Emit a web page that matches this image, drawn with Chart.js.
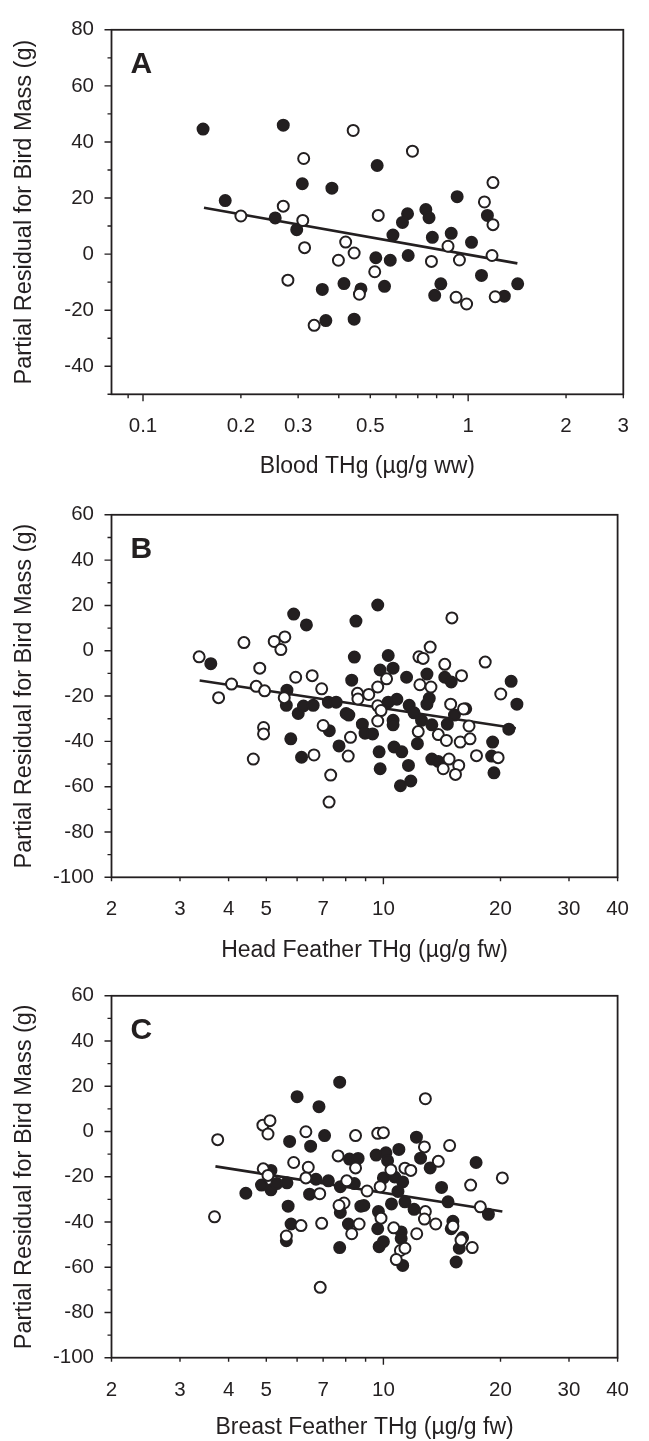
<!DOCTYPE html>
<html>
<head>
<meta charset="utf-8">
<script src="https://cdn.jsdelivr.net/npm/chart.js@4.4.1/dist/chart.umd.min.js"></script>
<style>
  html, body { margin: 0; padding: 0; background: #fff; }
  body { width: 649px; height: 1441px; position: relative; overflow: hidden; }
  .panel { position: absolute; left: 0; width: 649px; }
</style>
</head>
<body>
<div class="panel" style="top:0;height:485px"><canvas id="chartA"></canvas></div>
<div class="panel" style="top:485px;height:481px"><canvas id="chartB"></canvas></div>
<div class="panel" style="top:966px;height:475px"><canvas id="chartC"></canvas></div>
<script>
// Panel A - blood THg
const aFilledX = [0.153, 0.270, 0.179, 0.309, 0.381, 0.255, 0.297, 0.356, 0.415, 0.468, 0.365, 0.446, 0.525, 0.651, 0.628, 0.587, 0.741, 0.758, 0.776, 0.887, 0.925, 1.024, 0.520, 0.576, 0.654, 0.553, 0.824, 0.789, 1.099, 1.146, 1.292, 1.420];
const aFilledY = [44.6, 46.0, 19.1, 25.1, 23.5, 12.9, 8.7, -12.6, -10.5, -12.4, -23.7, -23.2, 31.6, 14.4, 11.3, 6.8, 15.9, 13.0, 6.0, 7.4, 20.5, 4.2, -1.3, -2.2, -0.5, -11.5, -10.6, -14.7, -7.6, 13.8, -15.0, -10.6];
const aOpenX = [0.443, 0.312, 0.200, 0.270, 0.310, 0.314, 0.420, 0.446, 0.399, 0.279, 0.463, 0.336, 0.674, 0.529, 0.516, 0.771, 0.867, 0.940, 0.918, 0.989, 1.192, 1.122, 1.192, 1.184, 1.211];
const aOpenY = [44.1, 34.1, 13.6, 17.1, 12.0, 2.3, 4.3, 0.4, -2.2, -9.3, -14.3, -25.4, 36.7, 13.8, -6.3, -2.6, 2.8, -2.1, -15.4, -17.8, 25.5, 18.6, 10.5, -0.5, -15.2];
const aLineX = [0.154, 1.417];
const aLineY = [16.5, -3.3];

// Panel B - head feather THg
const bFilledX = [3.60, 5.88, 6.34, 8.50, 8.42, 8.29, 5.65, 5.63, 6.04, 6.23, 6.60, 7.22, 7.56, 8.02, 8.15, 7.26, 5.78, 6.16, 7.69, 8.83,
  9.67, 10.29, 9.81, 10.59, 11.47, 12.94, 14.38, 14.94, 13.12, 12.94, 10.29, 10.83, 11.65, 11.99, 10.59, 10.59, 12.53, 13.32, 14.60, 15.23,
  8.97, 9.38, 10.65, 11.15, 9.75, 9.81, 11.60, 11.06, 11.76, 12.23, 13.32, 13.84, 21.30, 22.04, 21.01, 19.09, 18.98, 19.24, 16.28];
const bFilledY = [-5.7, 16.2, 11.4, 13.1, -2.8, -13.0, -17.4, -24.1, -27.7, -24.4, -24.1, -22.7, -22.7, -27.7, -28.4, -35.3, -38.9, -47.0, -42.0, -32.4,
  20.2, -2.1, -8.5, -7.7, -11.7, -10.3, -11.7, -13.8, -21.0, -23.6, -22.7, -21.4, -24.1, -27.4, -30.7, -32.7, -30.7, -32.7, -32.4, -28.4,
  -36.4, -36.7, -42.5, -44.6, -44.6, -52.1, -50.6, -59.6, -57.5, -41.0, -47.8, -48.9, -13.5, -23.6, -34.6, -40.3, -46.5, -53.9, -25.6];
const bOpenX = [3.36, 3.77, 4.07, 4.38, 4.81, 4.71, 4.95, 5.24, 5.45, 5.58, 5.95, 6.56, 5.56, 6.94, 4.92, 4.92, 4.63, 6.63, 7.00, 7.32, 7.25, 8.23, 8.12, 8.58, 8.60,
  15.00, 13.19, 12.34, 12.65, 18.27, 14.38, 15.88, 10.19, 9.67, 9.17, 12.41, 13.25, 9.67, 9.86, 9.67, 14.89, 16.07, 16.60, 12.29, 13.84,
  14.52, 15.76, 16.70, 17.35, 19.72, 20.03, 14.75, 15.62, 14.25, 15.32];
const bOpenY = [-2.7, -20.7, -14.7, 3.6, -7.7, -15.7, -17.7, 4.1, 0.5, 6.1, -11.7, -11.0, -20.7, -16.8, -33.9, -36.7, -47.8, -46.0, -33.0, -54.9, -66.8, -38.2, -46.5, -18.8, -21.3,
  14.5, 1.6, -2.7, -3.4, -5.0, -6.0, -11.0, -12.4, -16.0, -19.3, -15.0, -16.0, -24.3, -26.4, -31.0, -23.6, -25.7, -33.2, -35.7, -37.0,
  -39.6, -40.3, -38.9, -46.3, -47.2, -19.1, -47.8, -50.6, -52.1, -54.6];
const bLineX = [3.37, 21.9];
const bLineY = [-13.1, -34.2];

// Panel C - breast feather THg
const cFilledX = [7.72, 6.00, 6.83, 5.74, 6.50, 7.06, 4.43, 4.86, 5.14, 5.32, 5.65, 5.14, 6.46, 6.71, 7.22, 7.75, 5.69, 5.79, 5.63, 7.75, 8.13, 7.72, 8.18, 8.61, 8.42, 8.75,
  12.16, 9.58, 10.15, 10.96, 10.25, 12.46, 13.19, 17.31, 10.00, 10.69, 11.21, 10.90, 14.11, 14.66, 8.91, 10.49, 11.36, 11.99, 9.71, 9.67,
  9.75, 10.00, 11.11, 11.11, 11.21, 15.09, 14.94, 15.98, 15.67, 15.38, 18.62];
const cFilledY = [21.8, 15.4, 11.0, -4.4, -6.5, -1.8, -27.3, -23.7, -25.8, -23.0, -22.7, -17.2, -27.7, -21.1, -21.8, -24.4, -33.0, -40.9, -48.3, -35.8, -40.9, -51.3, -12.2, -11.9, -23.0, -33.0,
  -2.5, -10.4, -9.4, -7.9, -12.9, -11.8, -16.1, -13.7, -20.5, -20.1, -22.3, -26.5, -24.7, -31.1, -32.7, -32.0, -31.1, -34.4, -35.4, -43.0,
  -50.9, -48.7, -44.4, -47.3, -59.2, -39.7, -43.0, -46.9, -51.6, -57.7, -36.6];
const cOpenX = [3.75, 3.68, 4.90, 5.11, 5.05, 4.91, 5.05, 5.88, 6.32, 6.41, 6.32, 6.86, 6.14, 6.94, 5.63, 6.88, 7.65, 8.48, 8.48, 8.05, 7.92, 7.69, 8.29, 8.66,
  12.82, 9.67, 10.00, 12.75, 14.80, 13.84, 11.36, 11.76, 10.45, 20.22, 16.76, 9.81, 9.08, 17.75, 12.82, 12.75, 13.63, 9.86, 12.18, 10.63,
  15.09, 15.83, 16.92, 11.06, 11.36, 10.79];
const cOpenY = [-3.6, -37.7, 2.8, 4.8, -1.1, -16.5, -19.4, -13.7, -0.1, -15.8, -20.5, -27.5, -41.6, -40.6, -46.2, -68.9, -10.8, -1.8, -16.1, -21.8, -31.6, -32.7, -45.2, -40.9,
  14.5, -0.8, -0.5, -6.8, -6.2, -13.2, -16.2, -17.2, -17.0, -20.5, -23.7, -24.4, -26.3, -33.3, -35.4, -38.7, -40.9, -38.3, -45.2, -42.6,
  -41.9, -48.0, -51.3, -52.6, -51.6, -56.6];
const cLineX = [3.70, 20.22];
const cLineY = [-15.4, -35.4];

// axis ticks
const aXTickLabels = [0.1, 0.2, 0.3, 0.5, 1, 2, 3];
const aXTickMarks = [0.09, 0.1, 0.2, 0.3, 0.4, 0.5, 0.6, 0.7, 0.8, 0.9, 1, 2, 3];
const aXMajor = [0.1, 1];
const aYTickLabels = [80, 60, 40, 20, 0, -20, -40];
const aYTickMarks = [80, 70, 60, 50, 40, 30, 20, 10, 0, -10, -20, -30, -40, -50];

const fXTickLabels = [2, 3, 4, 5, 7, 10, 20, 30, 40];
const fXTickMarks = [2, 3, 4, 5, 6, 7, 8, 9, 10, 20, 30, 40];
const fXMajor = [10];
const fYTickLabels = [60, 40, 20, 0, -20, -40, -60, -80, -100];
const fYTickMarks = [60, 50, 40, 30, 20, 10, 0, -10, -20, -30, -40, -50, -60, -70, -80, -90, -100];

const INK = '#231f20';
const FONT = "'Liberation Sans', Arial, Helvetica, sans-serif";

function pairs(xs, ys) {
  return xs.map((x, i) => ({ x: x, y: ys[i] }));
}

// draws the box round the plot, the tick marks and the panel letter
const framePlugin = {
  id: 'frame',
  afterDraw(chart, args, opts) {
    const ctx = chart.ctx;
    const area = chart.chartArea;
    const xs = chart.scales.x, ys = chart.scales.y;
    ctx.save();
    ctx.strokeStyle = INK;
    ctx.lineWidth = 1.8;
    ctx.strokeRect(area.left, area.top, area.right - area.left, area.bottom - area.top);
    ctx.lineWidth = 1.4;
    ctx.beginPath();
    opts.xMarks.forEach(v => {
      const px = xs.getPixelForValue(v);
      const len = opts.xMajor.includes(v) ? 7 : 4;
      ctx.moveTo(px, area.bottom);
      ctx.lineTo(px, area.bottom + len);
    });
    opts.yMarks.forEach(v => {
      const py = ys.getPixelForValue(v);
      const len = opts.yMajor.includes(v) ? 7 : 4;
      ctx.moveTo(area.left - len, py);
      ctx.lineTo(area.left, py);
    });
    ctx.stroke();
    ctx.fillStyle = INK;
    ctx.font = 'bold 30px ' + FONT;
    ctx.textBaseline = 'alphabetic';
    ctx.fillText(opts.letter, area.left + 19, area.top + 43);
    ctx.restore();
  }
};

function buildChart(id, o) {
  return new Chart(document.getElementById(id), {
    type: 'scatter',
    data: {
      datasets: [
        { type: 'line', data: pairs(o.lineX, o.lineY), borderColor: INK, borderWidth: 2.6, pointRadius: 0, fill: false, order: 3 },
        { data: pairs(o.filledX, o.filledY), backgroundColor: INK, borderColor: INK, pointRadius: 5.5, borderWidth: 2, order: 2 },
        { data: pairs(o.openX, o.openY), backgroundColor: '#fff', borderColor: INK, pointRadius: 5.5, borderWidth: 2, order: 1 }
      ]
    },
    options: {
      responsive: true,
      maintainAspectRatio: false,
      animation: false,
      layout: { padding: { top: o.top, right: 14.5, left: 0, bottom: 0 } },
      plugins: {
        legend: { display: false },
        tooltip: { enabled: false },
        frame: { letter: o.letter, xMarks: o.xMarks, xMajor: o.xMajor, yMarks: o.yMarks, yMajor: o.yLabels }
      },
      scales: {
        x: {
          type: 'logarithmic',
          min: o.xMin,
          max: o.xMax,
          grid: { display: false, drawTicks: false },
          border: { display: false },
          afterBuildTicks: s => { s.ticks = o.xMarks.map(v => ({ value: v })); },
          afterFit: s => { s.height = o.xAxisH; },
          ticks: {
            autoSkip: false, maxRotation: 0, padding: 20, color: INK,
            font: { family: FONT, size: 20.5 },
            callback: v => o.xLabels.includes(v) ? String(v) : ''
          },
          title: { display: true, text: o.xTitle, color: INK, font: { family: FONT, size: 23 }, padding: { top: 0, bottom: o.xTitlePad } }
        },
        y: {
          min: o.yMin,
          max: o.yMax,
          grid: { display: false, drawTicks: false },
          border: { display: false },
          afterBuildTicks: s => { s.ticks = o.yMarks.map(v => ({ value: v })); },
          afterFit: s => { s.width = 111.5; },
          ticks: {
            autoSkip: false, padding: 17.5, color: INK,
            font: { family: FONT, size: 20.5 },
            callback: v => o.yLabels.includes(v) ? String(v) : ''
          },
          title: { display: true, text: 'Partial Residual for Bird Mass (g)', color: INK, font: { family: FONT, size: 23.5 }, padding: { top: 10, bottom: 0 } }
        }
      }
    },
    plugins: [framePlugin]
  });
}

buildChart('chartA', {
  letter: 'A', top: 22.3, xAxisH: 485 - 394.3, xTitlePad: 5,
  filledX: aFilledX, filledY: aFilledY, openX: aOpenX, openY: aOpenY, lineX: aLineX, lineY: aLineY,
  xMin: 0.08, xMax: 3, xLabels: aXTickLabels, xMarks: aXTickMarks, xMajor: aXMajor,
  yMin: -50, yMax: 80, yLabels: aYTickLabels, yMarks: aYTickMarks,
  xTitle: 'Blood THg (µg/g ww)'
});

buildChart('chartB', {
  letter: 'B', top: 19.7, xAxisH: 481 - 392.3, xTitlePad: 2,
  filledX: bFilledX, filledY: bFilledY, openX: bOpenX, openY: bOpenY, lineX: bLineX, lineY: bLineY,
  xMin: 2, xMax: 40, xLabels: fXTickLabels, xMarks: fXTickMarks, xMajor: fXMajor,
  yMin: -100, yMax: 60, yLabels: fYTickLabels, yMarks: fYTickMarks,
  xTitle: 'Head Feather THg (µg/g fw)'
});

buildChart('chartC', {
  letter: 'C', top: 19.1, xAxisH: 475 - 391.7, xTitlePad: 0,
  filledX: cFilledX, filledY: cFilledY, openX: cOpenX, openY: cOpenY, lineX: cLineX, lineY: cLineY,
  xMin: 2, xMax: 40, xLabels: fXTickLabels, xMarks: fXTickMarks, xMajor: fXMajor,
  yMin: -100, yMax: 60, yLabels: fYTickLabels, yMarks: fYTickMarks,
  xTitle: 'Breast Feather THg (µg/g fw)'
});
</script>
</body>
</html>
